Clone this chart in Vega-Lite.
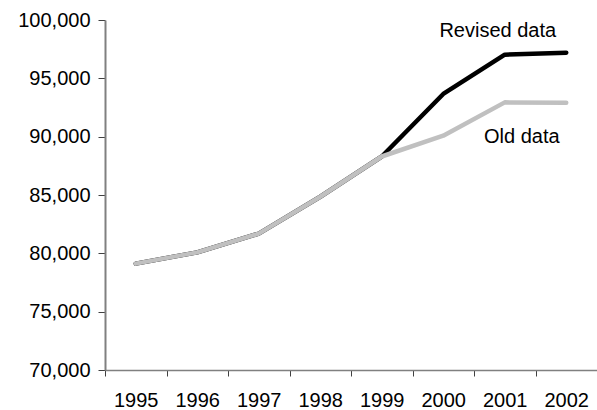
{
  "$schema": "https://vega.github.io/schema/vega-lite/v6.json",
  "width": 492,
  "height": 350,
  "autosize": {"type": "none"},
  "padding": {"left": 105, "top": 20, "right": 0, "bottom": 40},
  "background": "white",
  "config": {
    "view": {"stroke": null},
    "font": "Liberation Sans",
    "axis": {"grid": false, "title": null, "labelFont": "Liberation Sans", "labelFontSize": 20, "labelColor": "#000000"}
  },
  "datasets": {
    "series": [
      {"year": "1995", "series": "Revised data", "value": 79120},
      {"year": "1996", "series": "Revised data", "value": 80080},
      {"year": "1997", "series": "Revised data", "value": 81690},
      {"year": "1998", "series": "Revised data", "value": 84850},
      {"year": "1999", "series": "Revised data", "value": 88300},
      {"year": "2000", "series": "Revised data", "value": 93660},
      {"year": "2001", "series": "Revised data", "value": 97030},
      {"year": "2002", "series": "Revised data", "value": 97200},
      {"year": "1995", "series": "Old data", "value": 79120},
      {"year": "1996", "series": "Old data", "value": 80080},
      {"year": "1997", "series": "Old data", "value": 81690},
      {"year": "1998", "series": "Old data", "value": 84850},
      {"year": "1999", "series": "Old data", "value": 88300},
      {"year": "2000", "series": "Old data", "value": 90080},
      {"year": "2001", "series": "Old data", "value": 92940},
      {"year": "2002", "series": "Old data", "value": 92900}
    ]
  },
  "data": {"name": "series"},
  "encoding": {
    "x": {
      "field": "year",
      "type": "ordinal",
      "scale": {"type": "band", "paddingInner": 0, "paddingOuter": 0},
      "axis": {
        "labelAngle": 0,
        "tickBand": "extent",
        "domainColor": "#808080",
        "domainWidth": 1.5,
        "tickColor": "#404040",
        "tickWidth": 1,
        "tickSize": 6,
        "labelPadding": 14
      }
    },
    "y": {
      "field": "value",
      "type": "quantitative",
      "scale": {"domain": [70000, 100000], "nice": false, "zero": false},
      "axis": {
        "values": [70000, 75000, 80000, 85000, 90000, 95000, 100000],
        "format": ",.0f",
        "domainColor": "#808080",
        "domainWidth": 2,
        "tickColor": "#404040",
        "tickWidth": 1,
        "tickSize": 7,
        "labelPadding": 8
      }
    }
  },
  "layer": [
    {
      "transform": [{"filter": "datum.series === 'Revised data'"}],
      "mark": {"type": "line", "color": "#000000", "strokeWidth": 4.5, "strokeCap": "round", "strokeJoin": "round"}
    },
    {
      "transform": [{"filter": "datum.series === 'Old data'"}],
      "mark": {"type": "line", "color": "#c0c0c0", "strokeWidth": 4.5, "strokeCap": "round", "strokeJoin": "round"}
    },
    {
      "transform": [{"filter": "datum.series === 'Revised data' && datum.year === '2001'"}],
      "mark": {"type": "text", "fontSize": 20, "color": "#000000", "align": "center", "baseline": "middle", "dx": -7, "dy": -24},
      "encoding": {"text": {"field": "series"}}
    },
    {
      "transform": [{"filter": "datum.series === 'Old data' && datum.year === '2001'"}],
      "mark": {"type": "text", "fontSize": 20, "color": "#000000", "align": "center", "baseline": "middle", "dx": 17, "dy": 35},
      "encoding": {"text": {"field": "series"}}
    }
  ]
}
